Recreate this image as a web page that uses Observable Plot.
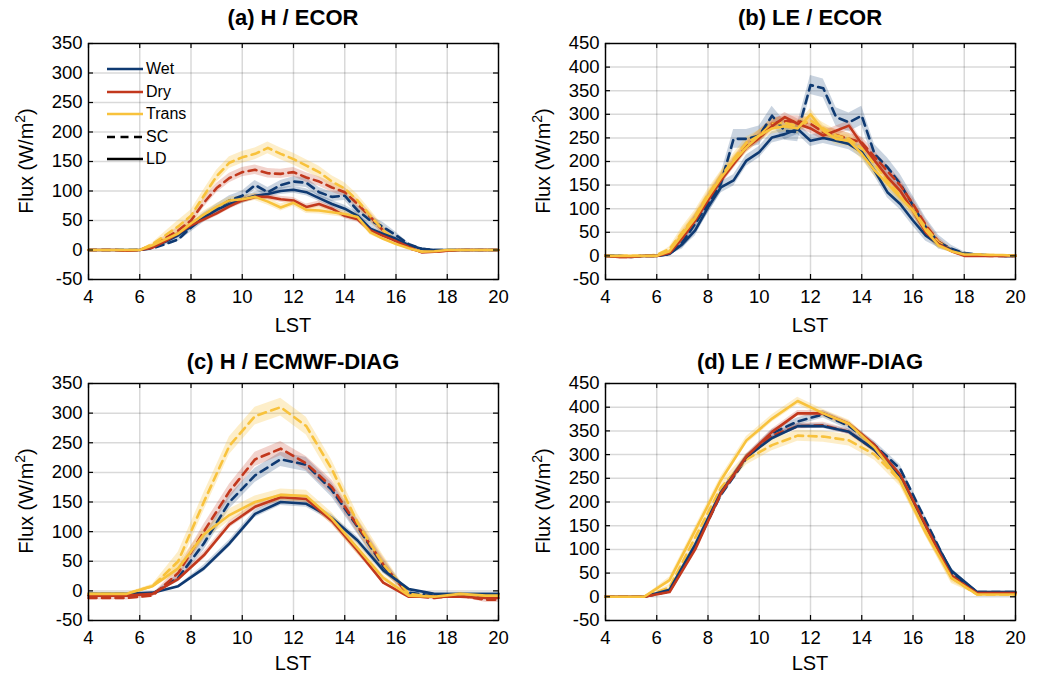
<!DOCTYPE html>
<html>
<head>
<meta charset="utf-8">
<script src="https://cdn.jsdelivr.net/npm/d3@7"></script>
<script src="https://cdn.jsdelivr.net/npm/@observablehq/plot@0.6"></script>
<style>
  body { margin: 0; background: #fff; font-family: "Liberation Sans", Arial, Helvetica, sans-serif; }
  #root { position: relative; width: 1039px; height: 677px; overflow: hidden; background: #fff; }
  .panel { position: absolute; }
  .title { position: absolute; width: 410px; text-align: center; font-weight: bold; font-size: 22px; line-height: 26px; color: #000; }
  .xlab { position: absolute; width: 410px; text-align: center; font-size: 20px; line-height: 24px; color: #000; }
  .ylab { position: absolute; width: 200px; height: 24px; line-height: 24px; text-align: center; font-size: 20px; transform: rotate(-90deg); white-space: nowrap; color: #000; }
  .ylab sup { font-size: 14px; vertical-align: 0; position: relative; top: -8px; }
  .leg { position: absolute; font-size: 16px; line-height: 20px; color: #000; }
</style>
</head>
<body>
<div id="root"></div>
<script>
// ---------------- data ----------------
const conditions = ["Wet", "Dry", "Trans"];
const colors = ["#0f3a72", "#c2381d", "#f8c23c"];
const xTicks = [4, 6, 8, 10, 12, 14, 16, 18, 20];
const yTicksH = [-50, 0, 50, 100, 150, 200, 250, 300, 350];
const yTicksLE = [-50, 0, 50, 100, 150, 200, 250, 300, 350, 400, 450];

// ECOR: half-hourly local solar time
const lstEcor = [4, 4.5, 5, 5.5, 6, 6.5, 7, 7.5, 8, 8.5, 9, 9.5, 10, 10.5, 11, 11.5, 12, 12.5, 13, 13.5, 14, 14.5, 15, 15.5, 16, 16.5, 17, 17.5, 18, 18.5, 19, 19.5, 20];
// ECMWF-DIAG: hourly (half-hour centred)
const lstEcmwf = [4, 4.5, 5.5, 6.5, 7.5, 8.5, 9.5, 10.5, 11.5, 12.5, 13.5, 14.5, 15.5, 16.5, 17.5, 18.5, 19.5, 20];

// (a) H / ECOR
const hEcorWetSC   = [0,0,0,0,0, 3,10,18,38,55,70,84,92,110,98,110,116,114,98,90,92,67,50,39,25,10,2,0,0,0,0,0,0];
const hEcorDrySC   = [0,0,0,-1,0, 8,20,33,50,80,105,122,132,136,130,129,132,123,116,106,98,78,56,33,14,3,-3,-3,-1,0,0,0,0];
const hEcorTransSC = [0,0,0,0,0, 10,25,40,58,92,125,148,157,163,173,163,154,143,132,116,104,84,58,33,16,5,-3,-2,0,0,0,0,0];
const hEcorWetLD   = [0,0,0,0,0, 5,14,25,40,55,68,78,85,92,95,100,102,98,88,78,70,58,36,27,19,8,2,0,0,0,0,0,0];
const hEcorDryLD   = [0,0,0,-1,0, 4,15,28,42,52,62,74,84,90,90,86,84,73,78,70,58,52,33,24,15,5,-4,-3,-1,0,0,0,0];
const hEcorTransLD = [0,0,0,0,0, 8,18,28,45,60,73,84,86,90,82,72,80,68,67,64,61,56,30,19,10,3,-3,-2,0,0,0,0,0];

// (b) LE / ECOR
const leEcorWetSC   = [0,0,-2,0,0, 4,29,68,110,153,248,248,255,297,265,262,362,355,294,283,297,216,188,153,107,61,29,15,6,3,1,0,0];
const leEcorDrySC   = [0,-2,-2,0,0, 8,40,78,122,162,198,232,255,280,285,285,280,262,256,248,240,210,180,150,110,65,30,12,2,1,0,0,0];
const leEcorTransSC = [0,0,0,0,2, 15,50,85,130,168,205,240,255,280,282,275,287,270,255,248,228,195,160,128,98,60,28,12,4,3,2,1,0];
const leEcorWetLD   = [0,0,-2,0,0, 4,25,54,103,145,160,202,220,251,258,269,244,250,244,237,220,181,135,110,75,43,25,13,4,2,1,0,0];
const leEcorDryLD   = [0,-2,-2,0,0, 6,38,75,118,160,195,230,250,275,294,280,270,255,265,276,237,202,167,138,96,50,25,10,0,0,0,0,0];
const leEcorTransLD = [0,0,0,0,0, 10,45,80,125,165,200,230,255,270,275,270,300,265,248,244,216,181,153,124,96,54,22,10,3,3,2,2,0];

// (c) H / ECMWF-DIAG
const hEcmwfWetSC   = [-8,-8,-8,-5,22,80,150,195,222,213,170,108,42,-3,-8,-8,-8,-8];
const hEcmwfDrySC   = [-12,-12,-12,-8,30,100,168,222,240,215,175,110,45,-8,-12,-8,-15,-15];
const hEcmwfTransSC = [-5,-5,-5,8,50,150,245,295,310,278,205,115,45,-5,-10,-5,-8,-8];
const hEcmwfWetLD   = [-5,-5,-5,-3,8,38,80,130,150,147,123,85,35,3,-5,-5,-5,-5];
const hEcmwfDryLD   = [-8,-8,-8,-5,20,60,112,142,158,155,118,68,14,-10,-10,-10,-12,-12];
const hEcmwfTransLD = [-5,-5,-5,8,38,95,128,150,162,160,122,72,22,-8,-10,-5,-8,-8];

// (d) LE / ECMWF-DIAG
const leEcmwfWetSC   = [0,0,0,12,105,215,292,345,370,385,360,320,270,160,50,10,10,10];
const leEcmwfDrySC   = [0,0,0,12,105,218,293,340,360,362,348,310,255,148,45,8,8,8];
const leEcmwfTransSC = [0,0,0,20,125,230,290,320,340,338,330,300,245,140,40,5,5,5];
const leEcmwfWetLD   = [0,0,0,15,110,220,295,335,360,360,348,310,255,150,55,10,10,10];
const leEcmwfDryLD   = [0,0,0,10,100,218,296,348,387,387,365,320,258,150,42,8,8,8];
const leEcmwfTransLD = [0,0,0,35,140,246,330,376,413,387,365,315,245,135,40,5,5,5];

// band half-widths (W/m2), order: Wet SC, Dry SC, Trans SC, Wet LD, Dry LD, Trans LD
const spreadA = [8, 8, 10, 6, 5, 6];
const spreadB = [20, 12, 12, 12, 10, 12];
const spreadC = [12, 12, 15, 6, 6, 10];
const spreadD = [8, 6, 12, 5, 6, 8];

// ---------------- drawing ----------------
const root = document.getElementById("root");
const FONT = "'Liberation Sans', Arial, Helvetica, sans-serif";

function makePanel({xs, sc, ld, spreads, yDomain, yTicks, left, top}) {
  const W = 519, H = 340;
  const mL = 88, mR = 21, mT = 43;
  const mB = H - (top === 0 ? 279 : 620 - 340);
  const innerW = W - mL - mR;
  const innerH = H - mT - mB;
  const marks = [
    Plot.gridX(xTicks, {stroke: "#000", strokeOpacity: 0.15, strokeWidth: 1.5}),
    Plot.gridY(yTicks, {stroke: "#000", strokeOpacity: 0.15, strokeWidth: 1.5})
  ];
  const seriesList = [];
  sc.forEach((vals, i) => seriesList.push({vals, color: colors[i], dashed: true, spread: spreads[i], cond: conditions[i]}));
  ld.forEach((vals, i) => seriesList.push({vals, color: colors[i], dashed: false, spread: spreads[3 + i], cond: conditions[i]}));
  // bands
  seriesList.forEach(s => {
    const rows = s.vals.map((v, j) => {
      const h = s.spread * Math.min(1, Math.abs(v) / 40);
      return {x: xs[j], lo: v - h, hi: v + h};
    });
    marks.push(Plot.areaY(rows, {x: "x", y1: "lo", y2: "hi", fill: s.color, fillOpacity: s.color === colors[2] ? 0.28 : 0.22}));
  });
  // lines: dashed then solid
  seriesList.forEach(s => {
    const rows = s.vals.map((v, j) => ({x: xs[j], y: v}));
    marks.push(Plot.line(rows, {
      x: "x", y: "y", stroke: s.color, strokeWidth: 2.6,
      strokeDasharray: s.dashed ? "8,5.5" : null, strokeLinejoin: "round"
    }));
  });
  // inward ticks on all four sides
  marks.push(
    Plot.tickY(yTicks, {y: d => d, insetRight: innerW - 5, stroke: "#000", strokeWidth: 1.2}),
    Plot.tickY(yTicks, {y: d => d, insetLeft: innerW - 5, stroke: "#000", strokeWidth: 1.2}),
    Plot.tickX(xTicks, {x: d => d, insetTop: innerH - 5, stroke: "#000", strokeWidth: 1.2}),
    Plot.tickX(xTicks, {x: d => d, insetBottom: innerH - 5, stroke: "#000", strokeWidth: 1.2}),
    Plot.frame({stroke: "#000", strokeWidth: 1.4}),
    Plot.axisX(xTicks, {tickSize: 0, tickPadding: 10, label: null, tickFormat: d => String(d)}),
    Plot.axisY(yTicks, {tickSize: 0, tickPadding: 6, label: null, tickFormat: d => String(d)})
  );
  const svg = Plot.plot({
    width: W, height: H,
    marginLeft: mL, marginRight: mR, marginTop: mT, marginBottom: mB,
    x: {domain: [4, 20]},
    y: {domain: yDomain},
    style: {fontFamily: FONT, fontSize: "18.5px", color: "#000", background: "transparent", overflow: "visible"},
    marks
  });
  const wrap = document.createElement("div");
  wrap.className = "panel";
  wrap.style.left = left + "px";
  wrap.style.top = top + "px";
  wrap.appendChild(svg);
  root.appendChild(wrap);
}

function addText(cls, html, left, top) {
  const d = document.createElement("div");
  d.className = cls;
  d.innerHTML = html;
  d.style.left = left + "px";
  d.style.top = top + "px";
  root.appendChild(d);
}

makePanel({xs: lstEcor, sc: [hEcorWetSC, hEcorDrySC, hEcorTransSC], ld: [hEcorWetLD, hEcorDryLD, hEcorTransLD],
  spreads: spreadA, yDomain: [-50, 350], yTicks: yTicksH, left: 0, top: 0});
makePanel({xs: lstEcor, sc: [leEcorWetSC, leEcorDrySC, leEcorTransSC], ld: [leEcorWetLD, leEcorDryLD, leEcorTransLD],
  spreads: spreadB, yDomain: [-50, 450], yTicks: yTicksLE, left: 517, top: 0});
makePanel({xs: lstEcmwf, sc: [hEcmwfWetSC, hEcmwfDrySC, hEcmwfTransSC], ld: [hEcmwfWetLD, hEcmwfDryLD, hEcmwfTransLD],
  spreads: spreadC, yDomain: [-50, 350], yTicks: yTicksH, left: 0, top: 340});
makePanel({xs: lstEcmwf, sc: [leEcmwfWetSC, leEcmwfDrySC, leEcmwfTransSC], ld: [leEcmwfWetLD, leEcmwfDryLD, leEcmwfTransLD],
  spreads: spreadD, yDomain: [-50, 450], yTicks: yTicksLE, left: 517, top: 340});

// titles and axis labels
const titles = ["(a) H / ECOR", "(b) LE / ECOR", "(c) H / ECMWF-DIAG", "(d) LE / ECMWF-DIAG"];
addText("title", titles[0], 88, 5);
addText("title", titles[1], 605, 5);
addText("title", titles[2], 88, 349);
addText("title", titles[3], 605, 349);
addText("xlab", "LST", 88, 313);
addText("xlab", "LST", 605, 313);
addText("xlab", "LST", 88, 651);
addText("xlab", "LST", 605, 651);
const ylabText = "Flux (W/m<sup>2</sup>)";
addText("ylab", ylabText, 26 - 100, 161 - 12);
addText("ylab", ylabText, 543 - 100, 161 - 12);
addText("ylab", ylabText, 26 - 100, 501 - 12);
addText("ylab", ylabText, 543 - 100, 501 - 12);

// legend (panel a)
const legendLabels = ["Wet", "Dry", "Trans", "SC", "LD"];
const legendColors = [colors[0], colors[1], colors[2], "#000", "#000"];
const legendDash = [null, null, null, "8,5.5", null];
legendLabels.forEach((lab, i) => {
  const yc = 69 + i * 22.6;
  const ns = "http://www.w3.org/2000/svg";
  const s = document.createElementNS(ns, "svg");
  s.setAttribute("width", 36); s.setAttribute("height", 6);
  s.style.position = "absolute"; s.style.left = "107px"; s.style.top = (yc - 3) + "px";
  const ln = document.createElementNS(ns, "line");
  ln.setAttribute("x1", 0); ln.setAttribute("x2", 36); ln.setAttribute("y1", 3); ln.setAttribute("y2", 3);
  ln.setAttribute("stroke", legendColors[i]); ln.setAttribute("stroke-width", 2.6);
  if (legendDash[i]) ln.setAttribute("stroke-dasharray", legendDash[i]);
  s.appendChild(ln);
  root.appendChild(s);
  addText("leg", lab, 146, yc - 10);
});
</script>
</body>
</html>
